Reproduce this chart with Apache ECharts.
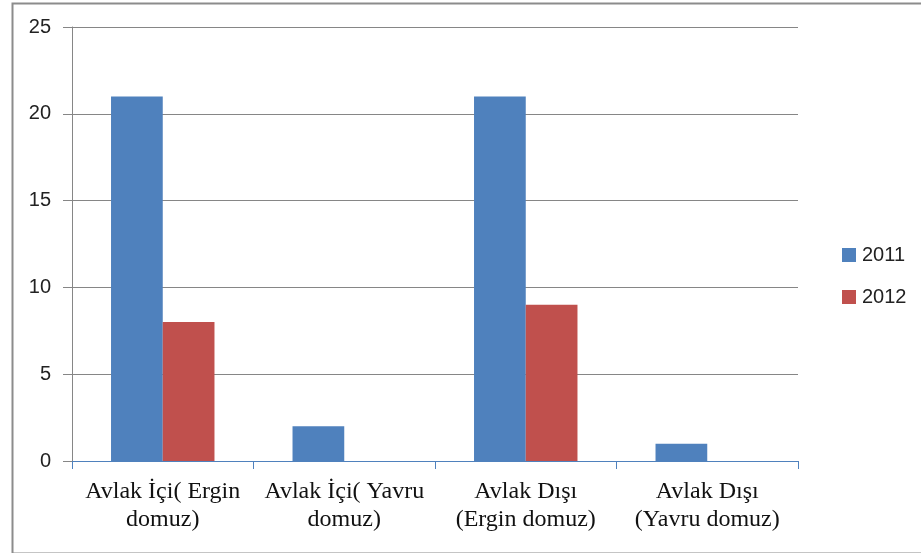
<!DOCTYPE html>
<html>
<head>
<meta charset="utf-8">
<script src="https://cdn.jsdelivr.net/npm/echarts@6/dist/echarts.min.js"></script>
<style>
  html, body { margin: 0; padding: 0; background: #fff; }
  #main { width: 921px; height: 553px; }
</style>
</head>
<body>
<div id="main"></div>
<script>
var categories = ['Avlak İçi( Ergin\ndomuz)', 'Avlak İçi( Yavru\ndomuz)', 'Avlak Dışı\n(Ergin domuz)', 'Avlak Dışı\n(Yavru domuz)'];
var values2011 = [21, 2, 21, 1];
var values2012 = [8, 0, 9, 0];
var seriesNames = ['2011', '2012'];

var myChart = echarts.init(document.getElementById('main'));

var option = {
    animation: false,
    backgroundColor: '#fff',
    graphic: [{
        type: 'rect',
        left: 10, top: 1,
        shape: { width: 1000, height: 550 },
        style: { fill: 'none', stroke: '#8c8c8c', lineWidth: 2 },
        silent: true
    }],
    grid: { left: 72, right: 123, top: 27, bottom: 92 },
    legend: {
        orient: 'vertical',
        left: 837,
        top: 240,
        itemWidth: 14,
        itemHeight: 14,
        itemGap: 22,
        icon: 'rect',
        textStyle: { fontFamily: 'Liberation Sans, DejaVu Sans', fontSize: 20, color: '#222', padding: [0, 0, 0, 1] },
        data: seriesNames
    },
    xAxis: {
        type: 'category',
        data: categories,
        axisLine: { lineStyle: { color: '#4F81BD', width: 1 } },
        axisTick: { show: true, length: 8, lineStyle: { color: '#4F81BD' } },
        axisLabel: {
            interval: 0,
            margin: 17,
            fontFamily: 'Liberation Serif, Times New Roman, serif',
            fontSize: 24,
            lineHeight: 28,
            color: '#111'
        }
    },
    yAxis: {
        type: 'value',
        min: 0,
        max: 25,
        interval: 5,
        axisLine: { show: true, lineStyle: { color: '#868686' } },
        axisTick: { show: true, length: 9, lineStyle: { color: '#868686' } },
        splitLine: { lineStyle: { color: '#868686' } },
        axisLabel: {
            margin: 21,
            fontFamily: 'Liberation Sans, DejaVu Sans',
            fontSize: 20,
            color: '#222'
        }
    },
    series: [
        {
            name: seriesNames[0],
            type: 'bar',
            data: values2011,
            barGap: 0,
            barCategoryGap: '43%',
            itemStyle: { color: '#4F81BD' }
        },
        {
            name: seriesNames[1],
            type: 'bar',
            data: values2012,
            barGap: 0,
            barCategoryGap: '43%',
            itemStyle: { color: '#C0504D' }
        }
    ]
};

myChart.setOption(option);
</script>
</body>
</html>
